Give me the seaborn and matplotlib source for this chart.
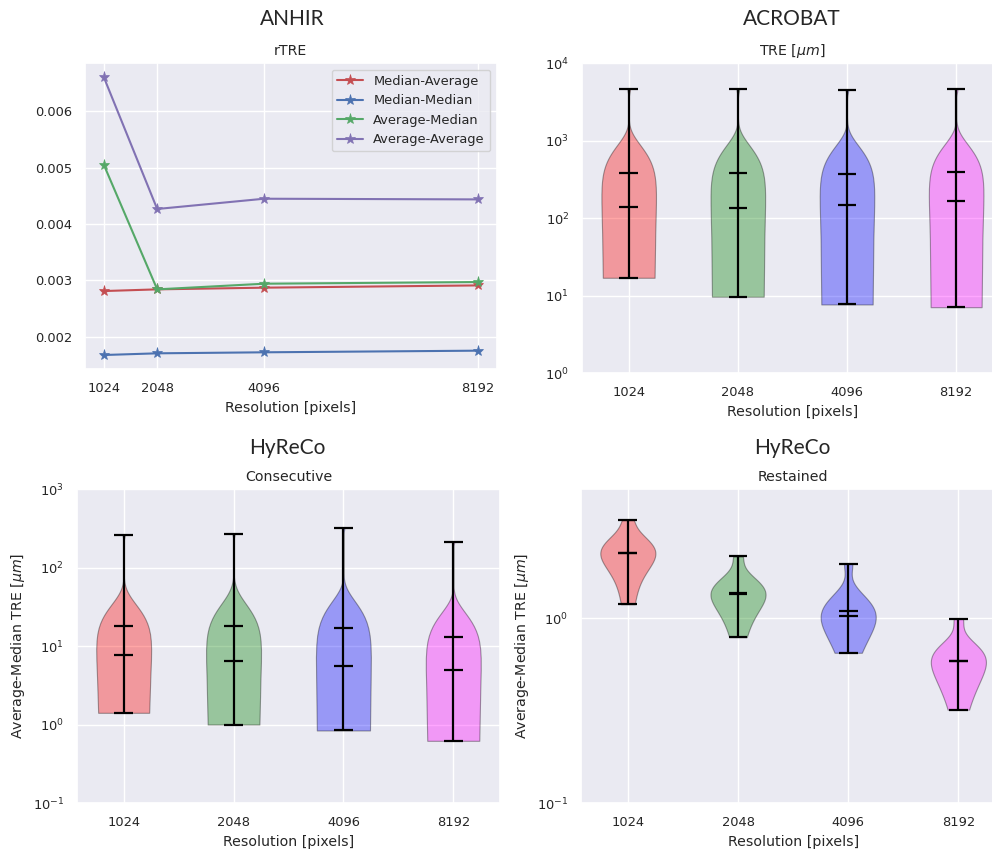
import numpy as np
import matplotlib
matplotlib.use('Agg')
import matplotlib.pyplot as plt
import seaborn as sns

resolutions = [1024, 2048, 4096, 8192]
res_labels = ['1024', '2048', '4096', '8192']

# ANHIR - rTRE per resolution
anhir_series = ['Median-Average', 'Median-Median', 'Average-Median', 'Average-Average']
anhir_colors = ['r', 'b', 'g', 'm']
median_average = [0.00281, 0.00284, 0.00287, 0.00291]
median_median = [0.001676, 0.001706, 0.001724, 0.001753]
average_median = [0.005053, 0.00284, 0.00294, 0.00297]
average_average = [0.006606, 0.004265, 0.004447, 0.004435]

# ACROBAT - TRE [um] samples per resolution
acrobat_1024 = [17, 25, 35, 45, 55, 65, 78, 90, 102, 115, 127, 138,
                144, 160, 185, 215, 250, 280, 330, 400, 480, 580, 720, 4620]
acrobat_2048 = [9.7, 16, 24, 33, 43, 54, 66, 79, 92, 106, 120, 134,
                140, 156, 180, 210, 245, 280, 330, 400, 470, 560, 700, 4620]
acrobat_4096 = [7.7, 14, 22, 32, 43, 55, 68, 82, 97, 112, 127, 145,
                153, 170, 195, 225, 260, 300, 350, 410, 450, 520, 620, 4530]
acrobat_8192 = [7.1, 14, 23, 34, 46, 60, 75, 90, 106, 122, 140, 158,
                170, 190, 215, 245, 280, 320, 370, 440, 500, 590, 720, 4620]

# HyReCo consecutive - Average-Median TRE [um]
consec_1024 = [1.41, 1.8, 2.2, 2.6, 3.0, 3.4, 3.8, 4.2, 4.6, 5.0, 5.5, 6.0, 6.5, 6.9, 7.2, 7.5,
               7.7, 8.1, 8.6, 9.2, 9.9, 10.7, 11.6, 12.7, 14, 15.5, 17.5, 20, 24, 30, 40, 257]
consec_2048 = [1.0, 1.3, 1.6, 1.9, 2.2, 2.5, 2.8, 3.2, 3.6, 4.0, 4.4, 4.8, 5.2, 5.6, 6.0, 6.3,
               6.5, 7.0, 7.6, 8.3, 9.1, 10, 11, 12.5, 14, 16, 18.5, 22, 27, 34, 45, 265]
consec_4096 = [0.84, 1.1, 1.4, 1.7, 2.0, 2.3, 2.6, 2.9, 3.2, 3.5, 3.8, 4.1, 4.5, 4.9, 5.2, 5.5,
               5.7, 6.0, 6.3, 6.7, 7.1, 7.6, 8.2, 8.9, 9.7, 10.7, 12, 14, 17, 22, 30, 317]
consec_8192 = [0.62, 0.85, 1.1, 1.35, 1.6, 1.85, 2.1, 2.4, 2.7, 3.0, 3.3, 3.6, 3.9, 4.2, 4.5, 4.9,
               5.1, 5.4, 5.8, 6.2, 6.7, 7.2, 7.8, 8.5, 9.3, 10.3, 11.5, 13, 15.5, 19, 26, 214]

# HyReCo restained - Average-Median TRE [um]
restain_1024 = [1.19, 1.75, 1.95, 2.1, 2.2, 2.28, 2.4, 2.55, 2.75, 3.39]
restain_2048 = [0.79, 1.05, 1.18, 1.27, 1.33, 1.37, 1.43, 1.52, 1.65, 2.16]
restain_4096 = [0.65, 0.82, 0.9, 0.96, 1.0, 1.06, 1.12, 1.2, 1.32, 1.97]
restain_8192 = [0.32, 0.43, 0.47, 0.52, 0.58, 0.6, 0.63, 0.66, 0.70, 0.99]

violin_colors = ['red', 'green', 'blue', 'magenta']

sns.set_theme(style='darkgrid', font_scale=0.85)

fig = plt.figure(figsize=(9.92, 8.52), dpi=100)


def draw_violins(ax, groups, bw=None):
    parts = ax.violinplot(groups, showmeans=True, showmedians=True, bw_method=bw)
    for body, c in zip(parts['bodies'], violin_colors):
        body.set_facecolor(c)
        body.set_edgecolor('black')
        body.set_alpha(0.35)
        body.set_linewidth(0.8)
    for key in ['cbars', 'cmins', 'cmaxes', 'cmeans', 'cmedians']:
        parts[key].set_color('black')
        parts[key].set_linewidth(1.6)
    # shorter caps
    for key in ['cmins', 'cmaxes', 'cmeans', 'cmedians']:
        segs = []
        for s in parts[key].get_segments():
            mid = s[:, 0].mean()
            s2 = s.copy()
            s2[:, 0] = mid + (s[:, 0] - mid) * 0.68
            segs.append(s2)
        parts[key].set_segments(segs)
    ax.set_yscale('log')
    ax.set_xticks([1, 2, 3, 4])
    ax.set_xticklabels(res_labels)
    ax.set_xlim(0.575, 4.425)
    ax.set_xlabel('Resolution [pixels]')


# ANHIR
ax1 = fig.add_axes([0.0857, 0.567, 0.415, 0.359])
for vals, name, c in zip([median_average, median_median, average_median, average_average],
                         anhir_series, anhir_colors):
    sns.lineplot(x=resolutions, y=vals, marker='*', color=c, label=name, ax=ax1,
                 markersize=8, markeredgecolor=c, markeredgewidth=0.5)
ax1.set_xticks(resolutions)
ax1.set_xticklabels(res_labels)
ax1.set_title('rTRE')
ax1.set_xlabel('Resolution [pixels]')
ax1.legend(loc='upper right')

# ACROBAT
ax2 = fig.add_axes([0.587, 0.562, 0.4236, 0.364])
draw_violins(ax2, [acrobat_1024, acrobat_2048, acrobat_4096, acrobat_8192])
ax2.set_ylim(1, 1e4)
ax2.set_title('TRE [$\\mu m$]')

# HyReCo consecutive
ax3 = fig.add_axes([0.0776, 0.0575, 0.4264, 0.3685])
draw_violins(ax3, [consec_1024, consec_2048, consec_4096, consec_8192], bw=0.4)
ax3.set_ylim(0.1, 1e3)
ax3.set_title('Consecutive')
ax3.set_ylabel('Average-Median TRE [$\\mu m$]')

# HyReCo restained
ax4 = fig.add_axes([0.5857, 0.0575, 0.4276, 0.3685])
draw_violins(ax4, [restain_1024, restain_2048, restain_4096, restain_8192])
ax4.set_ylim(0.1, 5)
ax4.set_title('Restained')
ax4.set_ylabel('Average-Median TRE [$\\mu m$]')

# dataset headers
for x, y, txt in [(292, 19, 'ANHIR'), (792, 19, 'ACROBAT'), (287, 448, 'HyReCo'), (792, 448, 'HyReCo')]:
    fig.text(x / 992, 1 - y / 852, txt, ha='center', va='center', fontsize=15, family='Lato')

fig.savefig('out.png', dpi=100, facecolor='white')
